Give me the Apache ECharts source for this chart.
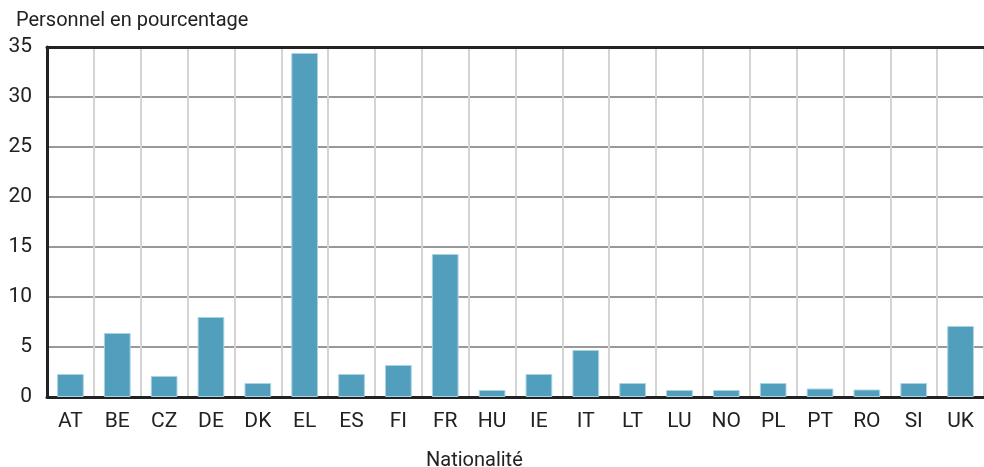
<!DOCTYPE html>
<html>
<head>
<meta charset="utf-8">
<script src="https://cdn.jsdelivr.net/npm/echarts@6/dist/echarts.min.js"></script>
<style>
  html, body { margin: 0; padding: 0; background: #fff; }
  #chart { width: 984px; height: 467px; }
</style>
</head>
<body>
<div id="chart"></div>
<script>
// nationalites et pourcentage du personnel
let categories = ['AT', 'BE', 'CZ', 'DE', 'DK', 'EL', 'ES', 'FI', 'FR', 'HU', 'IE', 'IT', 'LT', 'LU', 'NO', 'PL', 'PT', 'RO', 'SI', 'UK'];
let valeurs = [2.3, 6.4, 2.1, 8.0, 1.4, 34.4, 2.3, 3.2, 14.3, 0.7, 2.3, 4.7, 1.4, 0.7, 0.7, 1.4, 0.85, 0.75, 1.4, 7.1];
let yTicks = [0, 5, 10, 15, 20, 25, 30, 35];

let font = 'Roboto, "Liberation Sans", sans-serif';

let chart = echarts.init(document.getElementById('chart'), null, { renderer: 'canvas' });

let option = {
  animation: false,
  title: [
    {
      text: 'Personnel en pourcentage',
      left: 11, top: 6,
      textStyle: { fontFamily: font, fontSize: 20, fontWeight: 'normal', color: '#222' }
    },
    {
      text: 'Nationalité',
      left: 421, top: 446,
      textStyle: { fontFamily: font, fontSize: 20, fontWeight: 'normal', color: '#222' }
    }
  ],
  grid: { left: 47, right: -4, top: 47, bottom: 70 },
  xAxis: [
    {
      type: 'category',
      data: categories,
      boundaryGap: true,
      axisLine: { lineStyle: { color: '#222', width: 3 } },
      axisTick: { show: false },
      axisLabel: { fontFamily: font, fontSize: 21, color: '#222', margin: 14 },
      splitLine: { show: true, lineStyle: { color: '#d4d4d4', width: 2 } }
    },
    {
      type: 'category',
      position: 'top',
      data: categories,
      axisLine: { lineStyle: { color: '#222', width: 3 } },
      axisTick: { show: false },
      axisLabel: { show: false }
    }
  ],
  yAxis: {
    type: 'value',
    min: yTicks[0],
    max: yTicks[yTicks.length - 1],
    interval: 5,
    axisLine: { show: true, lineStyle: { color: '#222', width: 3 } },
    axisTick: { show: false },
    axisLabel: { fontFamily: font, fontSize: 21, color: '#222', margin: 15 },
    splitLine: { lineStyle: { color: '#777', width: 1.5 } }
  },
  series: [
    {
      type: 'bar',
      data: valeurs,
      barCategoryGap: '43%',
      itemStyle: { color: '#529ebd', borderColor: '#a9d2e3', borderWidth: 1 }
    }
  ]
};

chart.setOption(option);
</script>
</body>
</html>
